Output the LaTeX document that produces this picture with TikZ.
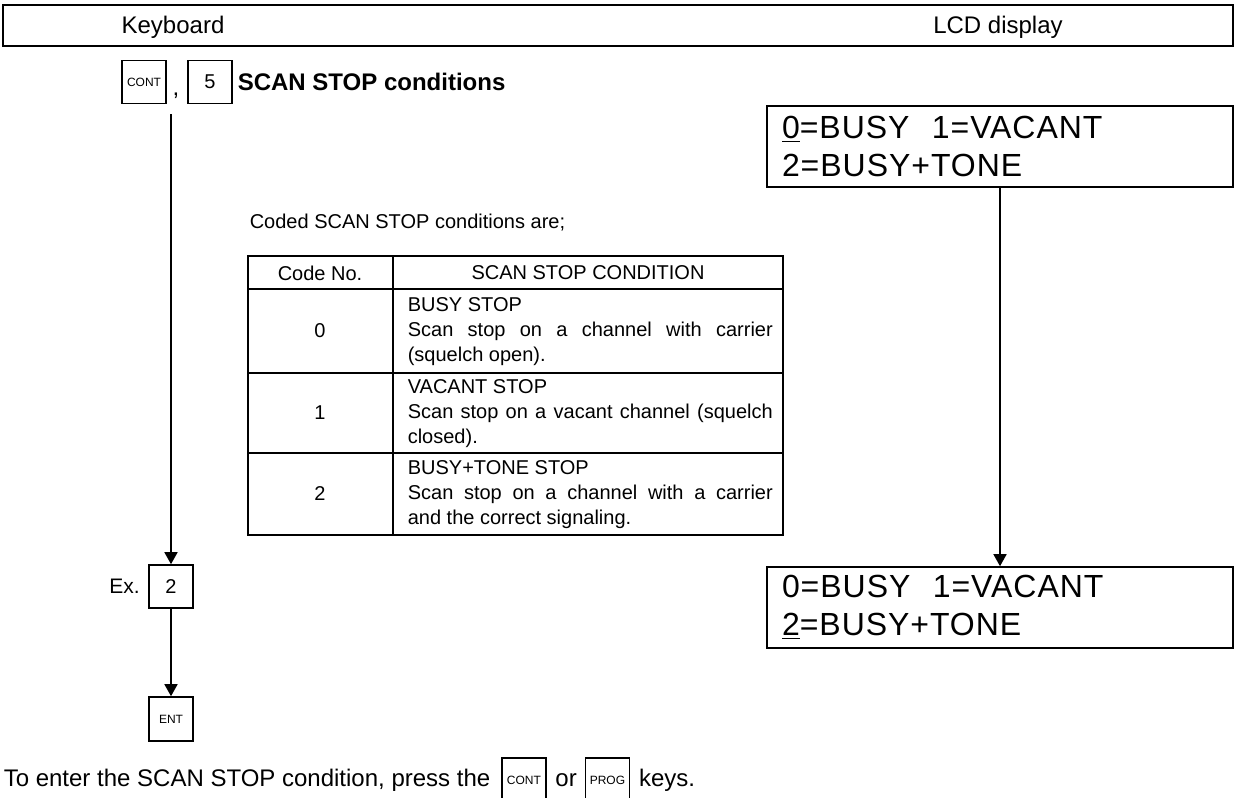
\documentclass[tikz,border=0pt]{standalone}
\usepackage{fontspec}
\setmainfont{Liberation Sans}
\newfontfamily\lcdfont[LetterSpace=3]{Liberation Sans}
\usetikzlibrary{positioning,arrows.meta}

\begin{document}
\begin{tikzpicture}[x=0.5pt,y=-0.5pt,line width=0.8pt,
  font=\fontsize{12}{14}\selectfont,
  plain/.style={inner sep=0pt,text height=9pt,text depth=2.5pt},
  key/.style={draw,inner sep=0pt,minimum width=22pt,minimum height=21.5pt,font=\fontsize{10}{12}\selectfont},
  tinykey/.style={key,font=\fontsize{6}{6}\selectfont},
  lcd/.style={draw,inner sep=0pt,minimum width=233pt,minimum height=40.5pt,
    text width=218pt,align=left,font=\lcdfont\fontsize{16}{19}\selectfont},
  cell/.style={font=\fontsize{10}{12.5}\selectfont},
  cond/.style={cell,inner sep=0pt,anchor=west,text width=182.5pt,align=justify},
  flow/.style={-{Triangle[length=6pt,width=6.5pt]}}]
\useasboundingbox (0,0) rectangle (1234,797);

\draw (3,5) rectangle (1233,46);
\draw (173,27) node (kbd) {Keyboard};
\draw (998,27) node (lcdhead) {LCD display};

\draw (144,82) node[tinykey] (cont) {CONT};
\draw (176,96) node[anchor=base,inner sep=0pt] (comma) {,};
\draw (210,82) node[key] (five) {5};
\draw (237,82) node[anchor=west,inner sep=0pt,font=\fontsize{12}{14}\selectfont\bfseries] (title) {SCAN STOP conditions};
\coordinate (kstart) at (171,114);

\draw (171,586.5) node[key] (two) {2};
\node[left=0.5pt of two,font=\fontsize{10.5}{12}\selectfont] (ex) {Ex.};
\draw (171,719) node[tinykey,minimum height=22pt] (ent) {ENT};

\draw (1000,146.5) node[lcd] (lcdtop) {\underline{0}=BUSY\hspace{0.7em}1=VACANT\\2=BUSY+TONE};
\draw (1000,607.5) node[lcd] (lcdbot) {0=BUSY\hspace{0.7em}1=VACANT\\\underline{2}=BUSY+TONE};

\draw (249,223) node[anchor=west,inner sep=0pt,cell] (coded) {Coded SCAN STOP conditions are;};

\draw (248,256) rectangle (783,535);
\draw (248,289) -- (783,289)
      (248,373) -- (783,373)
      (248,453) -- (783,453)
      (393,256) -- (393,535);
\draw (320,273) node[cell] (codehd) {Code No.};
\draw (588,273) node[cell] (condhd) {SCAN STOP CONDITION};
\draw (320,331) node[cell] (code0) {0};
\draw (320,413) node[cell] (code1) {1};
\draw (320,494) node[cell] (code2) {2};
\draw (407,332) node[cond] (cond0) {BUSY STOP\\Scan stop on a channel with carrier\linebreak (squelch open).};
\draw (407,414) node[cond] (cond1) {VACANT STOP\\Scan stop on a vacant channel (squelch\linebreak closed).};
\draw (407,495) node[cond] (cond2) {BUSY+TONE STOP\\Scan stop on a channel with a carrier\linebreak and the correct signaling.};

\draw (3,780) node[anchor=west,plain] (enter) {To enter the SCAN STOP condition, press the};
\node[tinykey,minimum height=22pt,right=5pt of enter] (cont2) {CONT};
\node[plain,right=4pt of cont2] (or) {or};
\node[tinykey,minimum height=22pt,right=3.5pt of or] (prog) {PROG};
\node[plain,right=4pt of prog] (keys) {keys.};

\draw[flow] (kstart) -- (two);
\draw[flow] (two) -- (ent);
\draw[flow] (lcdtop) -- (lcdbot);
\end{tikzpicture}
\end{document}
